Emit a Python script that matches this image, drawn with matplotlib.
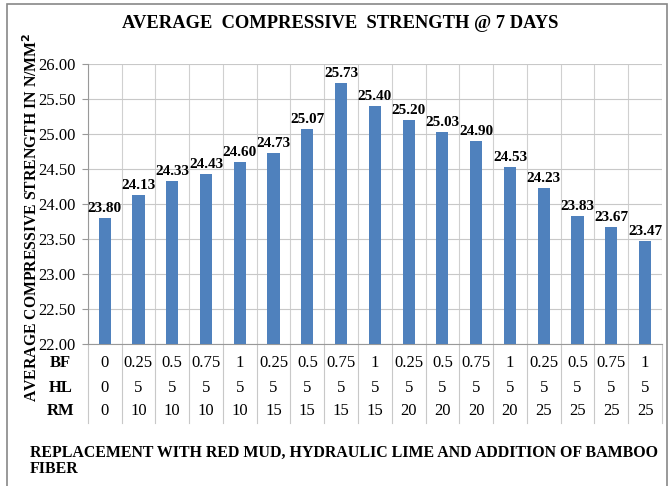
import matplotlib
matplotlib.use("Agg")
import matplotlib.pyplot as plt
from matplotlib.patches import Rectangle
import matplotlib.transforms as mtransforms

strength = [23.80, 24.13, 24.33, 24.43, 24.60, 24.73, 25.07, 25.73, 25.40,
            25.20, 25.03, 24.90, 24.53, 24.23, 23.83, 23.67, 23.47]
bf = ["0", "0.25", "0.5", "0.75", "1", "0.25", "0.5", "0.75", "1",
      "0.25", "0.5", "0.75", "1", "0.25", "0.5", "0.75", "1"]
hl = ["0"] + ["5"] * 16
rm = ["0", "10", "10", "10", "10", "15", "15", "15", "15",
      "20", "20", "20", "20", "25", "25", "25", "25"]

plt.rcParams['font.family'] = ['Liberation Serif', 'DejaVu Serif']

fig = plt.figure(figsize=(6.7, 4.86), dpi=100)
ax = fig.add_axes([0.131, 0.292, 0.857, 0.576])

x = list(range(len(strength)))
ax.bar(x, strength, width=0.36, color='#4f81bd', zorder=3)
ax.set_ylim(22, 26)
ax.set_xlim(-0.5, len(strength) - 0.5)
ax.set_yticks([22 + 0.5 * i for i in range(9)])
ax.set_yticklabels([f"{22 + 0.5 * i:.2f}" for i in range(9)], fontsize=12)
ax.tick_params(axis='y', length=4, color='#999999', pad=5)
ax.set_xticks([])
ax.grid(axis='y', color='#c8c8c8', lw=0.8, zorder=0)
for k in range(len(strength) + 1):
    ax.axvline(k - 0.5, color='#d0d0d0', lw=0.8, zorder=0)
for s in ['top', 'right']:
    ax.spines[s].set_visible(False)
ax.spines['left'].set_color('#999999')
ax.spines['bottom'].set_color('#999999')

for xi, v in zip(x, strength):
    ax.text(xi, v + 0.05, f"{v:.2f}", ha='center', va='bottom',
            fontsize=11, fontweight='bold', zorder=4)

# table under the axis
trans = mtransforms.blended_transform_factory(ax.transData, ax.transAxes)
rows = [("BF", bf, -0.068), ("HL", hl, -0.158), ("RM", rm, -0.240)]
for name, vals, yy in rows:
    ax.text(-1.3, yy, name, transform=trans, ha='center', va='center',
            fontsize=12, fontweight='bold')
    for xi, t in zip(x, vals):
        ax.text(xi, yy, t, transform=trans, ha='center', va='center',
                fontsize=12)
for k in range(len(strength) + 1):
    ax.plot([k - 0.5, k - 0.5], [0, -0.283], transform=trans, color='#c8c8c8',
            lw=0.8, clip_on=False)

fig.text(0.508, 0.952, "AVERAGE  COMPRESSIVE  STRENGTH @ 7 DAYS", ha='center',
         va='center', fontsize=13.3, fontweight='bold')
fig.text(0.047, 0.552, "AVERAGE COMPRESSIVE STRENGTH IN N/MM$^{\\mathbf{2}}$",
         rotation=90, ha='center', va='center', fontsize=11.3, fontweight='bold')
fig.text(0.045, 0.051, "REPLACEMENT WITH RED MUD, HYDRAULIC LIME AND ADDITION OF BAMBOO\nFIBER",
         ha='left', va='center', fontsize=11.4, fontweight='bold', linespacing=1.0)

fig.patches.append(Rectangle((0.011, -0.01), 0.985, 1.002, transform=fig.transFigure,
                             fill=False, edgecolor='#888888', lw=1.2))

fig.savefig("out.png", dpi=100)
